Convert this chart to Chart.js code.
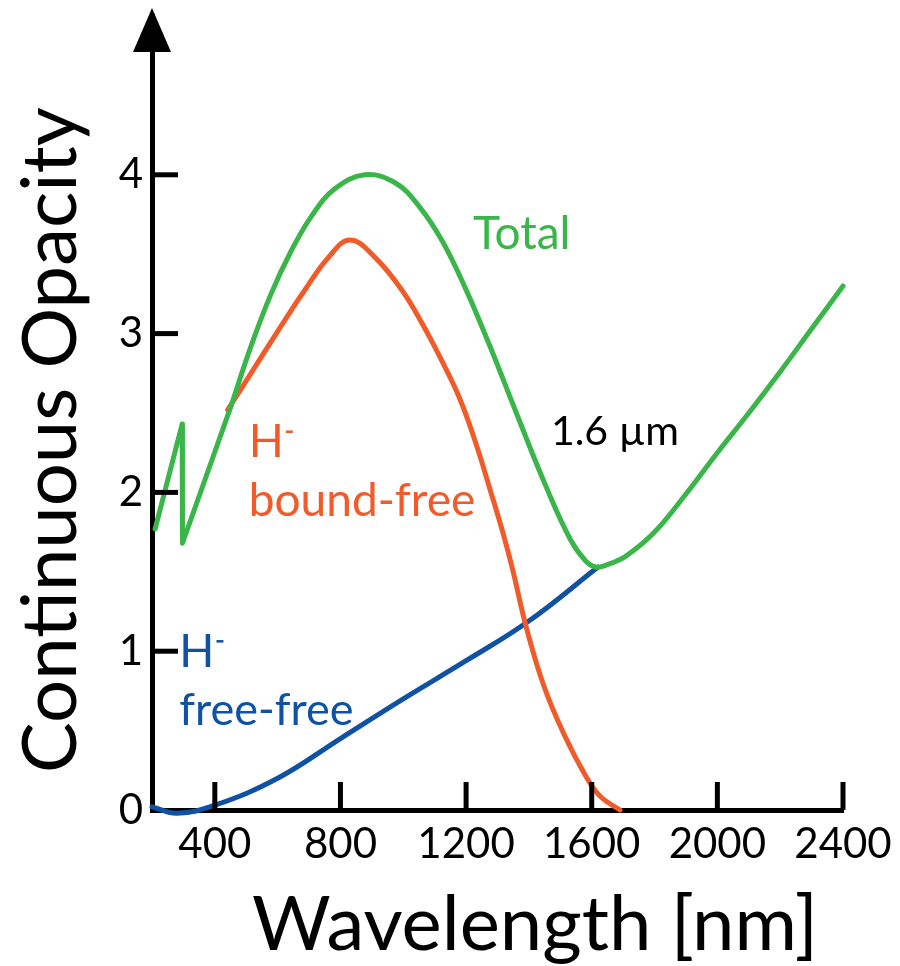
<!DOCTYPE html>
<html>
<head>
<meta charset="utf-8">
<script src="https://cdn.jsdelivr.net/npm/chart.js@4.4.0/dist/chart.umd.min.js"></script>
<style>
  html, body { margin: 0; padding: 0; background: #fff; }
</style>
</head>
<body>
<canvas id="myChart" width="900" height="966"></canvas>
<script>
// readings: wavelength in nm, opacity in arbitrary units
var toothX = [210, 296, 297, 451];
var toothY = [1.77, 2.43, 1.68, 2.54];

var totalX = [451, 515, 579, 643, 708, 781, 878, 974, 1051, 1125, 1199, 1276, 1360, 1456, 1533, 1580, 1613, 1650, 1710, 1800, 1900, 2000, 2100, 2200, 2300, 2400];
var totalY = [2.54, 2.92, 3.25, 3.52, 3.74, 3.91, 4.00, 3.95, 3.80, 3.58, 3.28, 2.92, 2.50, 2.03, 1.70, 1.57, 1.53, 1.545, 1.60, 1.75, 1.99, 2.25, 2.50, 2.76, 3.03, 3.30];

var boundX = [441, 515, 602, 685, 762, 830, 910, 997, 1061, 1125, 1180, 1231, 1276, 1318, 1350, 1389, 1446, 1511, 1585, 1630, 1690];
var boundY = [2.52, 2.75, 3.02, 3.27, 3.48, 3.59, 3.48, 3.27, 3.06, 2.82, 2.59, 2.31, 2.02, 1.74, 1.50, 1.17, 0.79, 0.48, 0.20, 0.08, 0.0];

var freeX = [200, 280, 400, 600, 800, 1000, 1200, 1400, 1620];
var freeY = [0.02, -0.02, 0.03, 0.20, 0.45, 0.70, 0.94, 1.19, 1.53];

var xTicks = [400, 800, 1200, 1600, 2000, 2400];
var yTicks = [0, 1, 2, 3, 4];

var GREEN = '#3ab54a';
var RED = '#f15a29';
var BLUE = '#0f51a3';
var FONT = 'Lato';

function pts(xs, ys) {
  return xs.map(function (x, i) { return { x: x, y: ys[i] }; });
}

// inward tick marks, arrow on the y axis, axis titles
var axisMarks = {
  id: 'axisMarks',
  afterDraw: function (chart) {
    var c = chart.ctx, xs = chart.scales.x, ys = chart.scales.y;
    var a = chart.chartArea;
    c.save();
    c.strokeStyle = '#000';
    c.lineWidth = 5;
    xTicks.forEach(function (v) {
      var px = xs.getPixelForValue(v);
      c.beginPath(); c.moveTo(px, a.bottom); c.lineTo(px, a.bottom - 28); c.stroke();
    });
    yTicks.slice(1).forEach(function (v) {
      var py = ys.getPixelForValue(v);
      c.beginPath(); c.moveTo(a.left, py); c.lineTo(a.left + 26, py); c.stroke();
    });
    // arrow head
    c.fillStyle = '#000';
    c.beginPath();
    c.moveTo(a.left, a.top - 8);
    c.lineTo(a.left - 19, a.top + 36);
    c.lineTo(a.left + 19, a.top + 36);
    c.closePath();
    c.fill();

    // titles
    c.font = '76px ' + FONT;
    c.textAlign = 'center';
    c.textBaseline = 'alphabetic';
    c.fillText('Wavelength [nm]', a.left + 383, 950);
    c.translate(76, a.bottom - 370);
    c.rotate(-Math.PI / 2);
    c.fillText('Continuous Opacity', 0, 0);
    c.restore();
  }
};

// curve labels, placed in data coordinates
var curveLabels = {
  id: 'curveLabels',
  afterDatasetsDraw: function (chart) {
    var c = chart.ctx, xs = chart.scales.x, ys = chart.scales.y;
    function txt(s, x, y, size, col) {
      c.font = size + 'px ' + FONT;
      c.fillStyle = col;
      c.textAlign = 'left';
      c.textBaseline = 'alphabetic';
      c.fillText(s, xs.getPixelForValue(x), ys.getPixelForValue(y));
    }
    function hminus(x, y, col) {
      txt('H', x, y, 46, col);
      c.font = '46px ' + FONT;
      var w = c.measureText('H').width;
      c.fillStyle = col;
      c.fillRect(xs.getPixelForValue(x) + w + 2, ys.getPixelForValue(y) - 27, 7, 2.5);
    }
    c.save();
    txt('Total', 1222, 3.53, 46, GREEN);
    txt('1.6 \u00b5m', 1470, 2.30, 41, '#000');
    hminus(508, 2.22, RED);
    txt('bound-free', 508, 1.85, 46, RED);
    hminus(287, 0.90, BLUE);
    txt('free-free', 287, 0.535, 45, BLUE);
    c.restore();
  }
};

var ctx = document.getElementById('myChart').getContext('2d');
var myChart = new Chart(ctx, {
  type: 'line',
  data: {
    datasets: [
      { label: 'Total', data: pts(totalX, totalY), borderColor: GREEN, borderWidth: 5, tension: 0.4, clip: false },
      { label: 'Total (edge)', data: pts(toothX, toothY), borderColor: GREEN, borderWidth: 5, tension: 0, clip: false },
      { label: 'H- bound-free', data: pts(boundX, boundY), borderColor: RED, borderWidth: 5, tension: 0.4, clip: false },
      { label: 'H- free-free', data: pts(freeX, freeY), borderColor: BLUE, borderWidth: 5, tension: 0.4, clip: false }
    ]
  },
  options: {
    responsive: false,
    animation: false,
    layout: { padding: { top: 16, right: 57, bottom: 0, left: 0 } },
    elements: { point: { radius: 0 }, line: { borderCapStyle: 'round', borderJoinStyle: 'round' } },
    plugins: { legend: { display: false }, tooltip: { enabled: false } },
    scales: {
      x: {
        type: 'linear', min: 200, max: 2400,
        afterBuildTicks: function (s) { s.ticks = xTicks.map(function (v) { return { value: v }; }); },
        afterFit: function (s) { s.height = 156; s.paddingLeft = 0; s.paddingRight = 0; },
        grid: { drawOnChartArea: false, drawTicks: false },
        border: { display: true, width: 5, color: '#000' },
        ticks: { color: '#000', padding: 9, font: { family: FONT, size: 42 }, callback: function (v) { return String(v); } }
      },
      y: {
        type: 'linear', min: 0, max: 5,
        afterBuildTicks: function (s) { s.ticks = yTicks.map(function (v) { return { value: v }; }); },
        afterFit: function (s) { s.width = 152; s.paddingTop = 0; s.paddingBottom = 0; },
        grid: { drawOnChartArea: false, drawTicks: false },
        border: { display: true, width: 5, color: '#000' },
        ticks: { color: '#000', padding: 9, font: { family: FONT, size: 42 }, callback: function (v) { return String(v); } }
      }
    }
  },
  plugins: [axisMarks, curveLabels]
});
</script>
</body>
</html>
